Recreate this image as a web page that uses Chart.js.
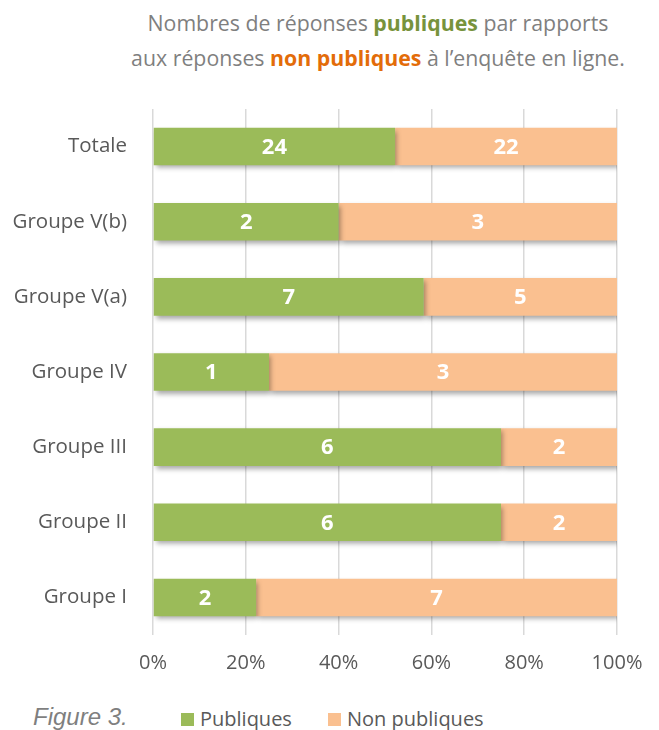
<!DOCTYPE html>
<html>
<head>
<meta charset="utf-8">
<script src="https://cdn.jsdelivr.net/npm/chart.js@4.4.1/dist/chart.umd.min.js"></script>
<style>
  body { margin: 0; background: #fff; }
  #page { position: relative; width: 659px; height: 730px; font-family: "Open Sans", sans-serif; }
  #titre { position: absolute; top: 5px; left: 98px; width: 560px; text-align: center; color: #7f7f7f; font-size: 21.3px; line-height: 35px; }
  #titre .pub { color: #77933c; font-weight: bold; }
  #titre .non { color: #e36c09; font-weight: bold; }
  #zone { position: absolute; top: 85px; left: 0; width: 659px; height: 602px; }
  #bas { position: absolute; top: 705px; left: 0; width: 659px; height: 26px; font-size: 20px; line-height: 28px; color: #595959; }
  #fig { position: absolute; left: 33px; top: -2px; font-family: "Liberation Sans", Arial, sans-serif; font-style: italic; font-size: 24px; color: #7f7f7f; }
  .leg { position: absolute; top: 0; }
  .leg i { display: inline-block; width: 13px; height: 13px; margin-right: 6px; }
</style>
</head>
<body>
<div id="page">
  <div id="titre">Nombres de réponses <span class="pub">publiques</span> par rapports<br>aux réponses <span class="non">non publiques</span> à l’enquête en ligne.</div>
  <div id="zone"><canvas id="graphe"></canvas></div>
  <div id="bas">
    <span id="fig">Figure 3.</span>
    <span class="leg" style="left:181px"><i style="background:#9bbb59"></i>Publiques</span>
    <span class="leg" style="left:328px"><i style="background:#fac090"></i>Non publiques</span>
  </div>
</div>
<script>
const groupes = ['Totale', 'Groupe V(b)', 'Groupe V(a)', 'Groupe IV', 'Groupe III', 'Groupe II', 'Groupe I'];
const publiques = [24, 2, 7, 1, 6, 6, 2];
const nonPubliques = [22, 3, 5, 3, 2, 2, 7];
const ticksPct = [0, 20, 40, 60, 80, 100];

const pct = (a, b) => a.map((v, i) => v / (v + b[i]) * 100);

// ombre portée sous les barres
const ombre = {
  id: 'ombre',
  beforeDatasetsDraw(chart) {
    const ctx = chart.ctx;
    ctx.save();
    ctx.shadowColor = 'rgba(0,0,0,0.35)';
    ctx.shadowBlur = 5;
    ctx.shadowOffsetX = 2;
    ctx.shadowOffsetY = 3;
  },
  afterDatasetsDraw(chart) {
    chart.ctx.restore();
  }
};

// nombres au centre de chaque segment
const etiquettes = {
  id: 'etiquettes',
  afterDraw(chart) {
    const ctx = chart.ctx;
    ctx.save();
    ctx.fillStyle = '#fff';
    ctx.font = 'bold 22px "Open Sans"';
    ctx.textAlign = 'center';
    ctx.textBaseline = 'middle';
    chart.data.datasets.forEach((ds, di) => {
      chart.getDatasetMeta(di).data.forEach((el, i) => {
        const p = el.getProps(['x', 'y', 'base'], true);
        ctx.fillText(ds.comptes[i], (p.x + p.base) / 2, p.y + 1);
      });
    });
    ctx.restore();
  }
};

new Chart(document.getElementById('graphe'), {
  type: 'bar',
  data: {
    labels: groupes,
    datasets: [
      { label: 'Publiques', data: pct(publiques, nonPubliques), comptes: publiques, backgroundColor: '#9bbb59' },
      { label: 'Non publiques', data: pct(nonPubliques, publiques), comptes: nonPubliques, backgroundColor: '#fac090' }
    ]
  },
  options: {
    indexAxis: 'y',
    responsive: true,
    maintainAspectRatio: false,
    animation: false,
    barPercentage: 0.5,
    categoryPercentage: 1,
    layout: { padding: { top: 24, right: 42, bottom: 0, left: 0 } },
    plugins: { legend: { display: false }, tooltip: { enabled: false } },
    scales: {
      x: {
        stacked: true, min: 0, max: 100,
        afterBuildTicks: s => { s.ticks = ticksPct.map(v => ({ value: v })); },
        afterFit: s => { s.height = 52; s.paddingLeft = 0; s.paddingRight = 0; },
        grid: { color: '#d9d9d9', lineWidth: 1.5, drawTicks: false },
        border: { display: false },
        ticks: { color: '#595959', font: { family: 'Open Sans', size: 20 }, padding: 16, callback: v => v + '%' }
      },
      y: {
        stacked: true,
        afterFit: s => { s.width = 153; s.paddingTop = 0; s.paddingBottom = 0; },
        grid: { display: false },
        border: { display: false },
        ticks: { color: '#595959', font: { family: 'Open Sans', size: 20.5 }, padding: 18 }
      }
    }
  },
  plugins: [ombre, etiquettes]
});
</script>
</body>
</html>
